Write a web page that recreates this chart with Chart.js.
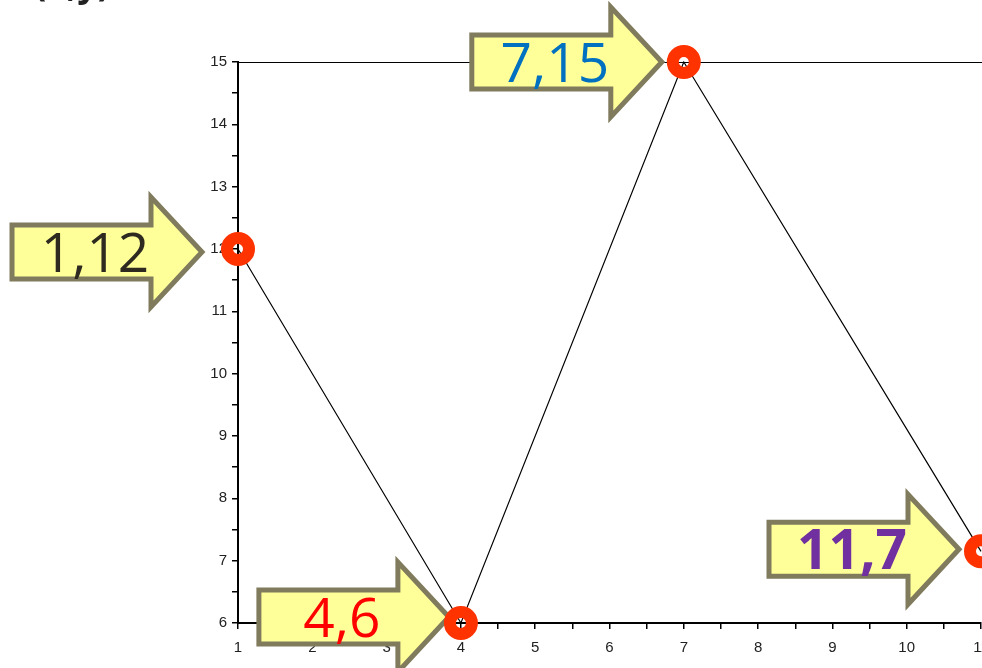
<!DOCTYPE html>
<html>
<head>
<meta charset="utf-8">
<script src="https://cdn.jsdelivr.net/npm/chart.js@4"></script>
<style>
  html, body { margin: 0; padding: 0; background: #fff; overflow: hidden; }
  canvas { display: block; }
</style>
</head>
<body>
<canvas id="chart" width="982" height="668"></canvas>
<script>
// data
const xValues = [1, 4, 7, 11];
const yValues = [12, 6, 15, 7.15];
const pointLabels = ['1,12', '4,6', '7,15', '11,7'];
const xRange = [1, 11];
const yRange = [6, 15];
const titleText = '(x,y)';

// arrow callouts, one per point (offsets of the arrow tip from the point)
const callouts = [
    { color: '#2e2a20', bold: false, dx: -36, dy: 3 },
    { color: '#ff0000', bold: false, dx: -12, dy: -6 },
    { color: '#0070c0', bold: false, dx: -22, dy: 0 },
    { color: '#7030a0', bold: true, dx: -22, dy: -2 }
];

function drawArrow(ctx, tx, ty) {
    const bodyLeft = tx - 190;
    const headStart = tx - 51;
    ctx.beginPath();
    ctx.moveTo(bodyLeft, ty - 27);
    ctx.lineTo(headStart, ty - 27);
    ctx.lineTo(headStart, ty - 55);
    ctx.lineTo(tx, ty);
    ctx.lineTo(headStart, ty + 55);
    ctx.lineTo(headStart, ty + 27);
    ctx.lineTo(bodyLeft, ty + 27);
    ctx.closePath();
    ctx.fillStyle = '#ffff99';
    ctx.fill();
    ctx.lineWidth = 5;
    ctx.lineJoin = 'miter';
    ctx.strokeStyle = '#7f7b5c';
    ctx.stroke();
}

const calloutPlugin = {
    id: 'callouts',
    beforeDatasetsDraw(chart) {
        const ctx = chart.ctx;
        const meta = chart.getDatasetMeta(0);
        ctx.save();
        meta.data.forEach((pt, i) => {
            const c = callouts[i];
            const tx = pt.x + c.dx;
            const ty = pt.y + c.dy;
            drawArrow(ctx, tx, ty);
            ctx.font = (c.bold ? 'bold ' : '') + '55px "Open Sans"';
            ctx.fillStyle = c.color;
            ctx.textAlign = 'center';
            ctx.textBaseline = 'alphabetic';
            ctx.fillText(pointLabels[i], tx - 107, ty + 20);
        });
        // title, mostly above the visible area
        ctx.font = 'bold 36px "Noto Sans"';
        ctx.fillStyle = '#222';
        ctx.textAlign = 'left';
        ctx.fillText(titleText, 34, -4);
        ctx.restore();
    }
};

const tickFont = { family: '"Liberation Sans", Arial, sans-serif', size: 15 };
const intOnly = v => Number.isInteger(v) ? v : '';

new Chart(document.getElementById('chart'), {
    type: 'line',
    data: {
        datasets: [{
            data: xValues.map((x, i) => ({ x: x, y: yValues[i] })),
            borderColor: '#000',
            borderWidth: 1.2,
            tension: 0,
            pointRadius: 11,
            pointHoverRadius: 11,
            pointBorderWidth: 12,
            pointBorderColor: '#ff3300',
            pointBackgroundColor: 'rgba(0,0,0,0)',
            clip: false
        }]
    },
    options: {
        responsive: false,
        devicePixelRatio: 1,
        animation: false,
        layout: { autoPadding: false, padding: { left: 0, right: 1, top: 0, bottom: 0 } },
        plugins: {
            legend: { display: false },
            tooltip: { enabled: false }
        },
        scales: {
            x: {
                type: 'linear',
                position: 'bottom',
                min: xRange[0],
                max: xRange[1],
                border: { color: '#000', width: 2 },
                grid: { drawOnChartArea: false, drawTicks: true, tickLength: 6, color: '#000', lineWidth: 1.5 },
                ticks: { stepSize: 0.5, autoSkip: false, maxRotation: 0, callback: intOnly, font: tickFont, color: '#222', padding: 10 },
                afterFit(s) { s.height = 45; s.paddingLeft = 0; s.paddingRight = 0; }
            },
            x2: {
                type: 'linear',
                position: 'top',
                min: xRange[0],
                max: xRange[1],
                border: { color: '#000', width: 1 },
                grid: { drawOnChartArea: false, drawTicks: false },
                ticks: { display: false },
                afterFit(s) { s.height = 62; s.paddingLeft = 0; s.paddingRight = 0; }
            },
            y: {
                type: 'linear',
                position: 'left',
                min: yRange[0],
                max: yRange[1],
                border: { color: '#000', width: 2 },
                grid: { drawOnChartArea: false, drawTicks: true, tickLength: 6, color: '#000', lineWidth: 1.5 },
                ticks: { stepSize: 0.5, autoSkip: false, callback: intOnly, font: tickFont, color: '#222', padding: 5 },
                afterFit(s) { s.width = 238; s.paddingTop = 0; s.paddingBottom = 0; }
            }
        }
    },
    plugins: [calloutPlugin]
});
</script>
</body>
</html>
